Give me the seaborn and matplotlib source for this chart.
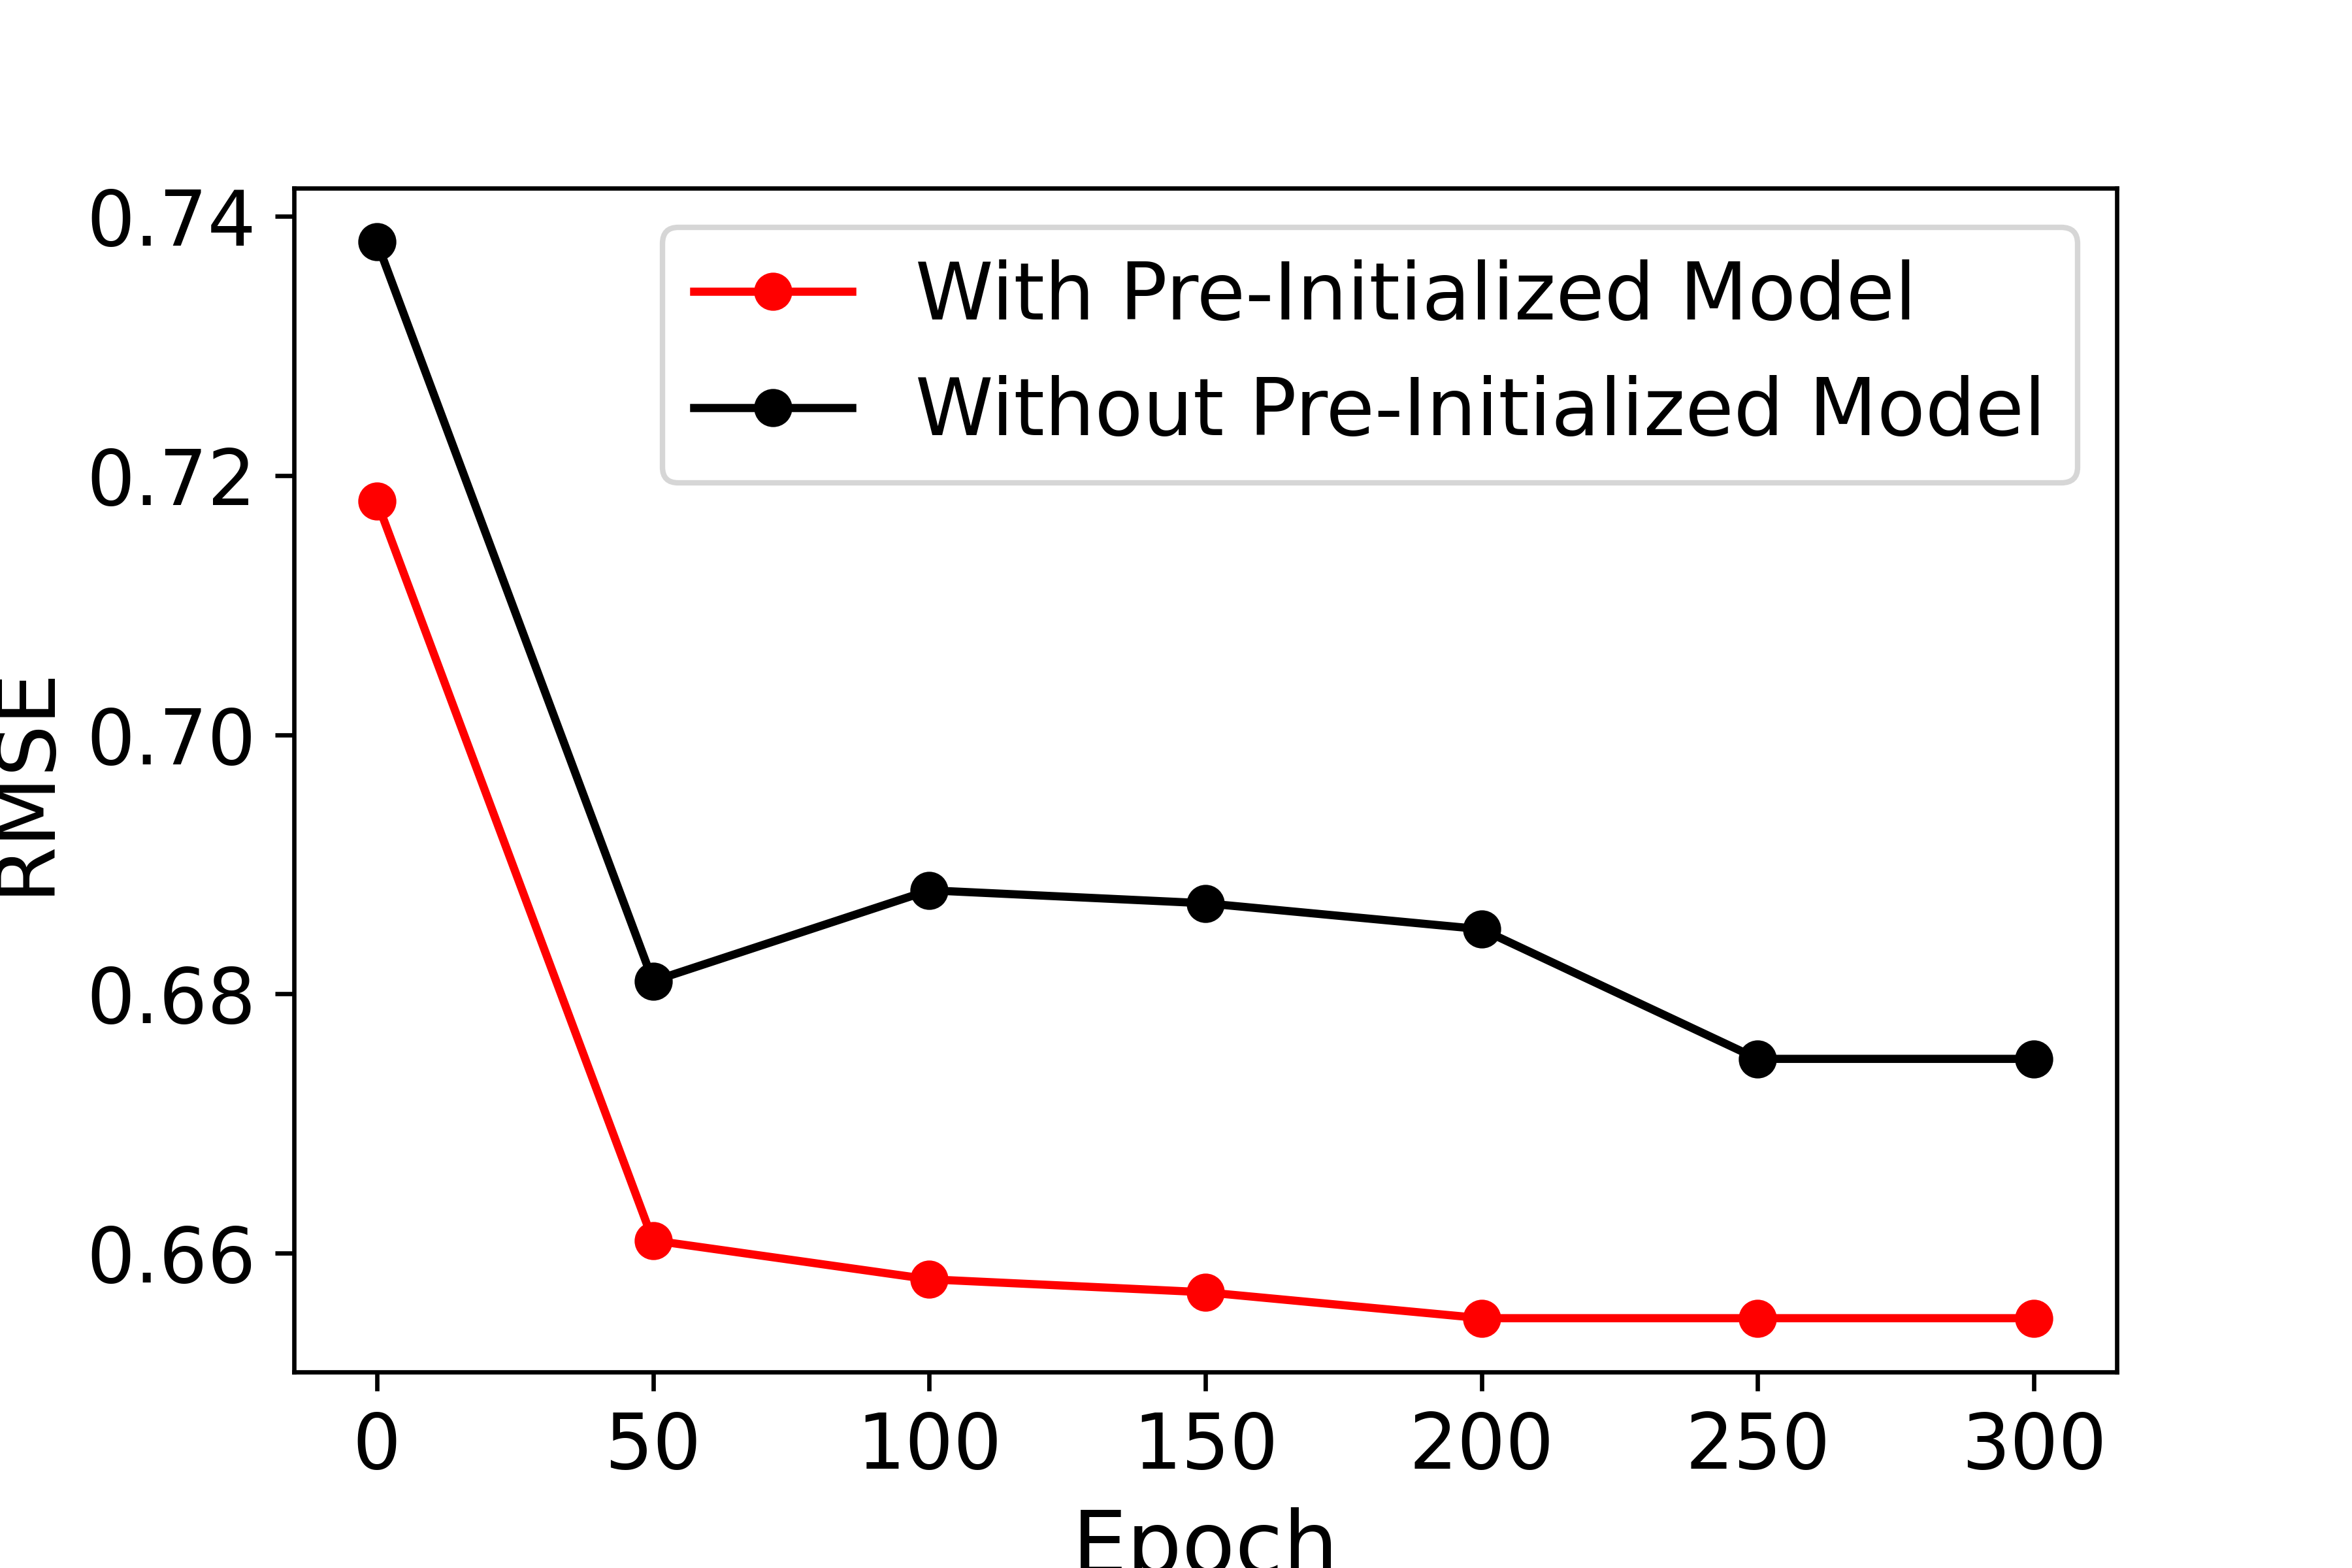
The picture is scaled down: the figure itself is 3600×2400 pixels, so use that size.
import pandas as pd
import seaborn as sns
import matplotlib.pyplot as plt

# values
epochs = [0, 50, 100, 150, 200, 250, 300]
rmse_with = [0.718, 0.661, 0.658, 0.657, 0.655, 0.655, 0.655]
rmse_without = [0.738, 0.681, 0.688, 0.687, 0.685, 0.675, 0.675]

df = pd.DataFrame({"Epoch": epochs, "with": rmse_with, "without": rmse_without})

fig, ax = plt.subplots(figsize=(6, 4), dpi=600)
fig.subplots_adjust(left=0.125, right=0.9, bottom=0.125, top=0.88)

sns.lineplot(data=df, x="Epoch", y="with", ax=ax, color="red", marker="o",
             markersize=6, markeredgecolor="red", markeredgewidth=1,
             linewidth=1.5, label="With Pre-Initialized Model")
sns.lineplot(data=df, x="Epoch", y="without", ax=ax, color="black", marker="o",
             markersize=6, markeredgecolor="black", markeredgewidth=1,
             linewidth=1.5, label="Without Pre-Initialized Model")

ax.set_xlabel("Epoch", fontsize=16)
ax.set_ylabel("RMSE", fontsize=15)
ax.tick_params(labelsize=14)
ax.legend(loc="upper right", fontsize=14.5)

fig.savefig("out.png", dpi=600)
